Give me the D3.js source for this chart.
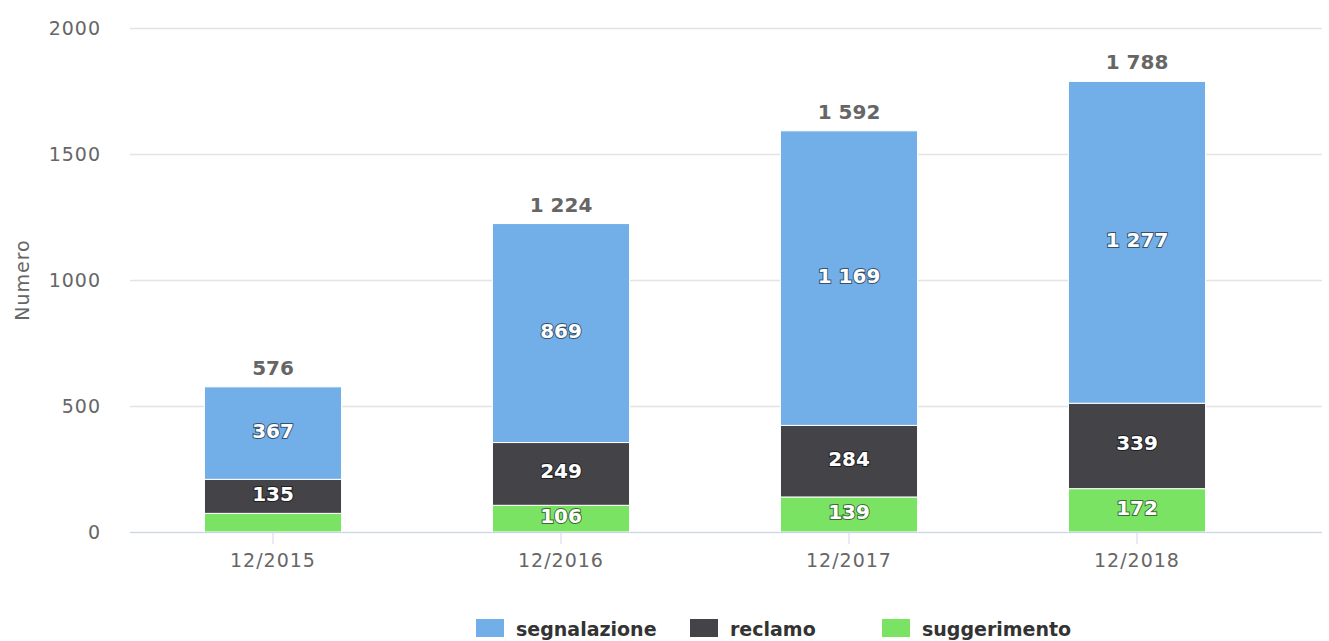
<!DOCTYPE html>
<html>
<head>
<meta charset="utf-8">
<script src="https://cdn.jsdelivr.net/npm/d3@7"></script>
<style>
  body { margin: 0; background: #fff; }
  svg { display: block; font-family: "DejaVu Sans", Verdana, sans-serif; }
  .tick-label { fill: #666; font-size: 19px; letter-spacing: 1px; }
  .total-label { fill: #666; font-size: 20px; font-weight: bold; }
  .inner-label { fill: #fff; font-size: 20px; font-weight: bold;
                 stroke: rgba(0,0,0,0.55); stroke-width: 2px; paint-order: stroke; }
  .legend-label { fill: #333; font-size: 19px; font-weight: bold; }
</style>
</head>
<body>
<svg id="chart" width="1329" height="641"></svg>
<script>
// categories and series, bottom to top
const categories = ["12/2015", "12/2016", "12/2017", "12/2018"];
const seriesNames = ["suggerimento", "reclamo", "segnalazione"];
const suggerimento = [74, 106, 139, 172];
const reclamo = [135, 249, 284, 339];
const segnalazione = [367, 869, 1169, 1277];
const yTicks = [0, 500, 1000, 1500, 2000];

const colors = {
    segnalazione: "#72afe9",
    reclamo: "#434348",
    suggerimento: "#7ae364"
};

// legend order as in the picture
const legendOrder = ["segnalazione", "reclamo", "suggerimento"];

let svg = d3.select("#chart");

let plot = { left: 130, right: 1322, top: 28, bottom: 532 };

let x = d3.scaleBand()
    .domain(categories)
    .range([129, 1281])
    .paddingInner(0.524)
    .paddingOuter(0.262);

let y = d3.scaleLinear()
    .domain([0, 2000])
    .range([plot.bottom, plot.top]);

// build rows for the stack
let rows = categories.map((c, i) => ({
    cat: c,
    suggerimento: suggerimento[i],
    reclamo: reclamo[i],
    segnalazione: segnalazione[i]
}));

let stack = d3.stack().keys(seriesNames);
let layers = stack(rows);

// gridlines
svg.append("g")
    .selectAll("line")
    .data(yTicks)
    .join("line")
    .attr("x1", plot.left)
    .attr("x2", plot.right)
    .attr("y1", d => Math.round(y(d)) + 0.5)
    .attr("y2", d => Math.round(y(d)) + 0.5)
    .attr("stroke", "#e3e3e3")
    .attr("stroke-width", 1.5);

// y tick labels
svg.append("g")
    .selectAll("text")
    .data(yTicks)
    .join("text")
    .attr("class", "tick-label")
    .attr("x", 101)
    .attr("y", d => y(d) + 7)
    .attr("text-anchor", "end")
    .text(d => d);

// y axis title
svg.append("text")
    .attr("class", "tick-label")
    .attr("transform", "translate(29," + y(1000) + ") rotate(-90)")
    .attr("text-anchor", "middle")
    .text("Numero");

// bars
let groups = svg.append("g")
    .selectAll("g")
    .data(layers)
    .join("g")
    .attr("fill", d => colors[d.key]);

groups.selectAll("rect")
    .data(d => d)
    .join("rect")
    .attr("x", d => x(d.data.cat))
    .attr("width", x.bandwidth())
    .attr("y", d => y(d[1]))
    .attr("height", d => y(d[0]) - y(d[1]))
    .attr("stroke", "#fff")
    .attr("stroke-width", 1);

// x axis line and ticks
svg.append("line")
    .attr("x1", plot.left)
    .attr("x2", plot.right)
    .attr("y1", plot.bottom + 0.5)
    .attr("y2", plot.bottom + 0.5)
    .attr("stroke", "#ccd6eb");

svg.append("g")
    .selectAll("line")
    .data(categories)
    .join("line")
    .attr("x1", d => x(d) + x.bandwidth() / 2)
    .attr("x2", d => x(d) + x.bandwidth() / 2)
    .attr("y1", plot.bottom)
    .attr("y2", plot.bottom + 12)
    .attr("stroke", "#ccd6eb");

svg.append("g")
    .selectAll("text")
    .data(categories)
    .join("text")
    .attr("class", "tick-label")
    .attr("x", d => x(d) + x.bandwidth() / 2)
    .attr("y", 567)
    .attr("text-anchor", "middle")
    .text(d => d);

// number format with a space for thousands
let fmt = d3.formatLocale({ decimal: ",", thousands: " ", grouping: [3], currency: ["", ""] }).format(",d");

// labels inside segments (skipped when the segment is too short, like the original)
groups.selectAll("text")
    .data(d => d.filter(s => y(s[0]) - y(s[1]) > 22))
    .join("text")
    .attr("class", "inner-label")
    .attr("x", d => x(d.data.cat) + x.bandwidth() / 2)
    .attr("y", d => (y(d[0]) + y(d[1])) / 2 + 4.5)
    .attr("text-anchor", "middle")
    .text(d => fmt(d[1] - d[0]));

// totals on top
let topLayer = layers[layers.length - 1];
svg.append("g")
    .selectAll("text")
    .data(topLayer)
    .join("text")
    .attr("class", "total-label")
    .attr("x", d => x(d.data.cat) + x.bandwidth() / 2)
    .attr("y", d => y(d[1]) - 12)
    .attr("text-anchor", "middle")
    .text(d => fmt(d[1]));

// legend
let legendX = [476, 690, 882];
let legend = svg.append("g")
    .selectAll("g")
    .data(legendOrder)
    .join("g")
    .attr("transform", (d, i) => "translate(" + legendX[i] + ",619)");

legend.append("rect")
    .attr("width", 28)
    .attr("height", 18)
    .attr("fill", d => colors[d]);

legend.append("text")
    .attr("class", "legend-label")
    .attr("x", 40)
    .attr("y", 17)
    .text(d => d);
</script>
</body>
</html>
